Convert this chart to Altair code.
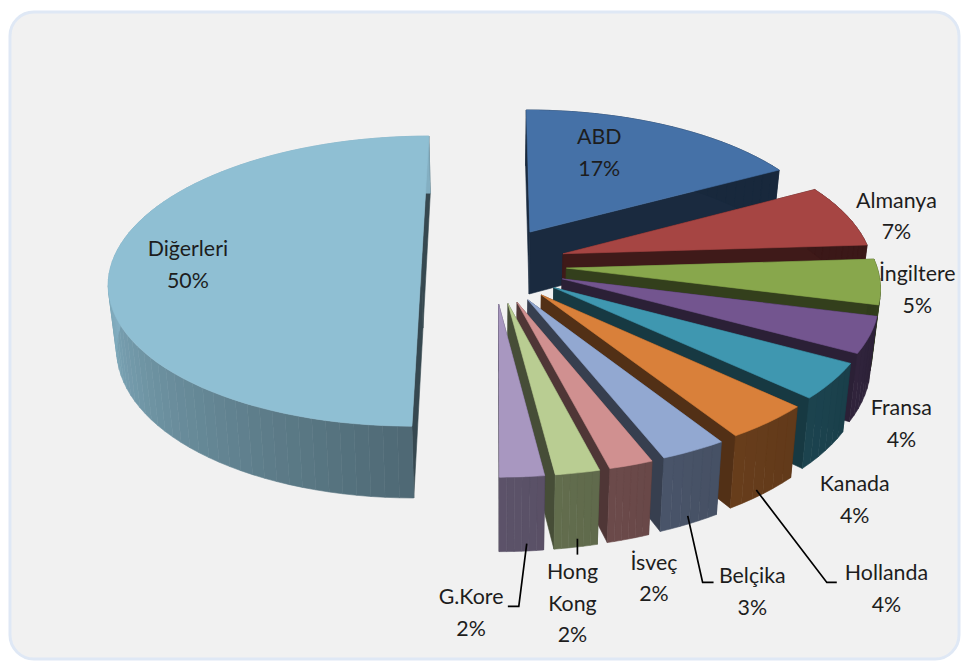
import numpy as np
import pandas as pd
import altair as alt

names = ["ABD", "Almanya", "İngiltere", "Fransa", "Kanada", "Hollanda", "Belçika", "İsveç", "Hong Kong", "G.Kore", "Diğerleri"]
shares = [17, 7, 5, 4, 4, 4, 3, 2, 2, 2, 50]
top_colors = ["#4571A7", "#A64543", "#88A74C", "#73558F", "#3F97B0", "#D9803A", "#92A8D1", "#D09090", "#B9CD92", "#A897C0", "#8FBFD3"]

label_lines = [["ABD", "17%"], ["Almanya", "7%"], ["İngiltere", "5%"], ["Fransa", "4%"], ["Kanada", "4%"], ["Hollanda", "4%"],
               ["Belçika", "3%"], ["İsveç", "2%"], ["Hong", "Kong", "2%"], ["G.Kore", "2%"], ["Diğerleri", "50%"]]
label_x = [601, 900, 921, 905, 858, 890, 755, 656, 574, 472, 187]
label_y = [135, 199, 273, 408, 484, 574, 577, 563, 573, 598, 248]
leaders = [[(759, 489), (830, 582), (840, 582)], [(690, 515), (705, 582), (716, 582)],
           [(579, 538), (579, 554)], [(528, 543), (520, 606), (509, 606)]]

# 3D pie model
CX, CY, K, KQ, P, H, EX, EY, CONV = 495, 262, 312, 144, 0.115, 64, 0.234, 0.27, 0.978
W, HT = 956, 652


def proj(X, Y, low=False):
    s = 1 / (1 + P * Y)
    sx, sy = K * X * s, CY - KQ * Y * s
    if low:
        return [CX + sx * CONV, sy + H * s]
    return [CX + sx, sy]


def shade(c, f):
    r = [int(c[i:i + 2], 16) for i in (1, 3, 5)]
    return "#%02x%02x%02x" % tuple(int(v * f) for v in r)


features = []


def add(points, color):
    pts = [[float(p[0]), float(p[1])] for p in points]
    pts.append(pts[0])
    features.append({"type": "Feature", "properties": {"color": color},
                     "geometry": {"type": "Polygon", "coordinates": [pts]}})


order = [10] + list(range(10))
starts = np.cumsum([0] + shares)[:-1] * 3.6
for i in order:
    a0, a1 = starts[i], starts[i] + shares[i] * 3.6
    mid = np.radians((a0 + a1) / 2)
    ox, oy = EX * np.sin(mid), EY * np.cos(mid)
    ang = np.linspace(a0, a1, max(6, int(shares[i] * 1.5)) + 1)
    rim = [(ox + np.sin(np.radians(a)), oy + np.cos(np.radians(a))) for a in ang]
    col = top_colors[i]
    # radial walls
    for edge in (rim[0], rim[-1]):
        add([proj(ox, oy), proj(*edge), proj(*edge, low=True), proj(ox, oy, low=True)], shade(col, 0.38))
    # outer wall, shaded by direction
    for j in range(len(rim) - 1):
        am = (ang[j] + ang[j + 1]) / 2
        f = float(np.interp(am, [90, 180, 270], [0.36, 0.55, 0.92]))
        add([proj(*rim[j]), proj(*rim[j + 1]), proj(*rim[j + 1], low=True), proj(*rim[j], low=True)], shade(col, f))
    add([proj(ox, oy)] + [proj(*r) for r in rim], col)

xs = alt.Scale(domain=[8, 8 + W], range=[0, W])
ys = alt.Scale(domain=[8, 8 + HT], range=[0, HT])

frame = alt.Chart(pd.DataFrame({"a": [0]})).mark_rect(
    fill="#f1f1f1", stroke="#dfe8f5", strokeWidth=3, cornerRadius=24
).encode(x=alt.value(0), x2=alt.value(W - 1), y=alt.value(0), y2=alt.value(HT - 1))

pie = alt.Chart(alt.Data(values=features)).mark_geoshape(strokeWidth=0.6).encode(
    fill=alt.Color("properties.color:N", scale=None),
    stroke=alt.Color("properties.color:N", scale=None),
).project(type="identity", scale=1, translate=[-8, -8])

rows = []
for n, lines, x, y in zip(names, label_lines, label_x, label_y):
    for k, t in enumerate(lines):
        rows.append({"name": n, "text": t, "x": x, "y": y + k * 31.7})
labels = alt.Chart(pd.DataFrame(rows)).mark_text(font="Lato", fontSize=21.5, color="#1d1d1d").encode(
    x=alt.X("x:Q", scale=xs, axis=None), y=alt.Y("y:Q", scale=ys, axis=None), text="text:N")

lrows = []
for li, pts in enumerate(leaders):
    for k, (x, y) in enumerate(pts):
        lrows.append({"id": li, "k": k, "x": x, "y": y})
lines = alt.Chart(pd.DataFrame(lrows)).mark_line(color="#000000", strokeWidth=1.7).encode(
    x=alt.X("x:Q", scale=xs, axis=None), y=alt.Y("y:Q", scale=ys, axis=None), detail="id:N", order="k:Q")

chart = alt.layer(frame, pie, lines, labels).properties(width=W, height=HT, padding=0).configure_view(strokeWidth=0)
chart.save("out.html", embed_options={"renderer": "svg", "actions": False})
